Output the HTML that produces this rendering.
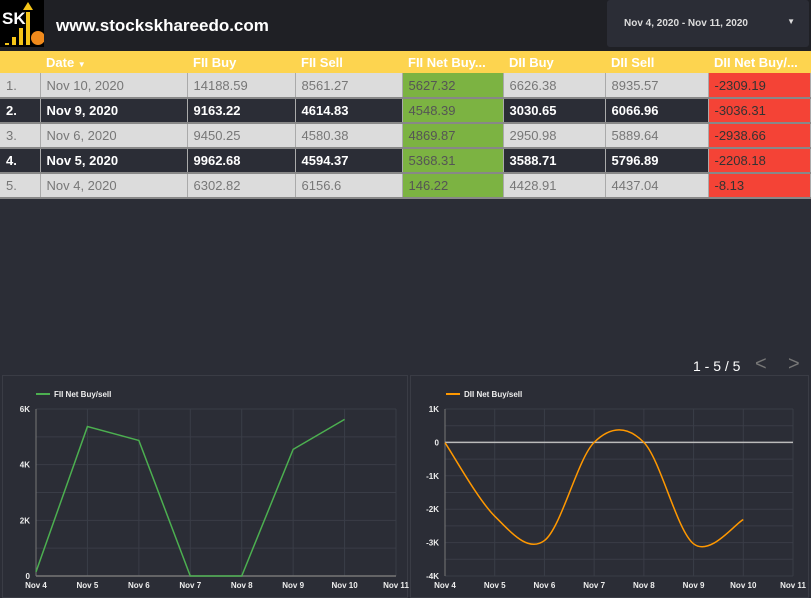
<!DOCTYPE html>
<html><head><meta charset="utf-8"><style>
*{margin:0;padding:0;box-sizing:border-box}
body{width:811px;height:598px;background:#2b2d36;font-family:"Liberation Sans",sans-serif;position:relative;overflow:hidden}
.hdr{position:absolute;left:0;top:0;width:811px;height:51px;background:#1f2025}
.logo{position:absolute;left:0;top:0;width:44px;height:47px;background:#000}
.site{position:absolute;left:56px;top:16px;color:#fff;font-weight:bold;font-size:17px}
.date{position:absolute;left:607px;top:0;width:202px;height:47px;background:#2b2d36;border-radius:3px;color:#ddd;font-size:10px;font-weight:bold;padding:18px 0 0 17px}
.date span{position:absolute;right:14px;top:17px;font-size:8px}
table{position:absolute;left:0;top:51px;width:811px;border-collapse:collapse;font-size:13px;table-layout:fixed}
th{background:#fdd44f;color:#fff;text-align:left;height:22px;font-weight:bold;padding-left:6px;white-space:nowrap;overflow:hidden}
td{height:25px;padding-left:6px;border-right:1px solid #aaa;border-bottom:2px solid #888;white-space:nowrap}
tr.l td{background:#dcdcdc;color:#777}
tr.d td{background:#2b2d36;color:#fff;font-weight:bold}
td.g{background:#7cb342!important;color:#555!important;font-weight:normal!important}
td.r{background:#f44336!important;color:#333!important;font-weight:normal!important}
.pg{position:absolute;left:693px;top:358px;color:#fff;font-size:14px}
.arr{position:absolute;top:353px;color:#777;font-size:20px}
.panel{position:absolute;top:375px;height:223px;background:#2b2d36;border:1px solid #3a3c45}
text{font-family:"Liberation Sans",sans-serif}
</style></head><body>
<div class="hdr">
<div class="logo">
<svg width="44" height="47"><text x="2" y="24" fill="#fff" font-size="17" font-weight="bold">SK</text>
<rect x="5" y="43" width="4" height="2" fill="#f5c518"/><rect x="12" y="37" width="4" height="8" fill="#f5c518"/><rect x="19" y="28" width="4" height="17" fill="#f5c518"/><rect x="26" y="12" width="4" height="33" fill="#f5c518"/><polygon points="28,2 23,10 33,10" fill="#f5c518"/><circle cx="38" cy="38" r="7" fill="#f08a1c"/></svg></div>
<div class="site">www.stockskhareedo.com</div>
<div class="date">Nov 4, 2020 - Nov 11, 2020<span>▼</span></div>
</div>
<table>
<tr><th style="width:40px"></th><th style="width:147px">Date <span style="font-size:8px">▼</span></th><th style="width:108px">FII Buy</th><th style="width:107px">FII Sell</th><th style="width:101px">FII Net Buy...</th><th style="width:102px">DII Buy</th><th style="width:103px">DII Sell</th><th>DII Net Buy/...</th></tr>
<tr class="l"><td>1.</td><td>Nov 10, 2020</td><td>14188.59</td><td>8561.27</td><td class="g">5627.32</td><td>6626.38</td><td>8935.57</td><td class="r">-2309.19</td></tr>
<tr class="d"><td>2.</td><td>Nov 9, 2020</td><td>9163.22</td><td>4614.83</td><td class="g">4548.39</td><td>3030.65</td><td>6066.96</td><td class="r">-3036.31</td></tr>
<tr class="l"><td>3.</td><td>Nov 6, 2020</td><td>9450.25</td><td>4580.38</td><td class="g">4869.87</td><td>2950.98</td><td>5889.64</td><td class="r">-2938.66</td></tr>
<tr class="d"><td>4.</td><td>Nov 5, 2020</td><td>9962.68</td><td>4594.37</td><td class="g">5368.31</td><td>3588.71</td><td>5796.89</td><td class="r">-2208.18</td></tr>
<tr class="l"><td>5.</td><td>Nov 4, 2020</td><td>6302.82</td><td>6156.6</td><td class="g">146.22</td><td>4428.91</td><td>4437.04</td><td class="r">-8.13</td></tr>
</table>
<div class="pg">1 - 5 / 5</div>
<div class="arr" style="left:755px">&lt;</div>
<div class="arr" style="left:788px">&gt;</div>
<div class="panel" style="left:2px;width:406px"></div>
<div class="panel" style="left:410px;width:399px"></div>
<svg id="c" width="811" height="598" style="position:absolute;left:0;top:0"></svg>
<script>
const days=["Nov 4","Nov 5","Nov 6","Nov 7","Nov 8","Nov 9","Nov 10","Nov 11"];
const fiiVals=[146.22,5368.31,4869.87,0,0,4548.39,5627.32];
const diiVals=[-8.13,-2208.18,-2938.66,0,0,-3036.31,-2309.19];
const fiiTicks=[0,2000,4000,6000];const fiiTickLabels=["0","2K","4K","6K"];
const diiTicks=[1000,0,-1000,-2000,-3000,-4000];const diiTickLabels=["1K","0","-1K","-2K","-3K","-4K"];
const svg=document.getElementById('c');const NS="http://www.w3.org/2000/svg";
function el(t,a){const e=document.createElementNS(NS,t);for(const k in a)e.setAttribute(k,a[k]);svg.appendChild(e);return e;}
function chart(o){
 const x=i=>o.x0+i*(o.x1-o.x0)/(days.length-1);
 const y=v=>o.yb+(v-o.min)/(o.max-o.min)*(o.yt-o.yb);
 for(let k=0;k<=(o.max-o.min)/o.step;k++){const v=o.min+k*o.step;el('line',{x1:o.x0,x2:o.x1,y1:y(v),y2:y(v),stroke:'#3a3d47','stroke-width':1});}
 days.forEach((d,i)=>{el('line',{x1:x(i),x2:x(i),y1:o.yt,y2:o.yb,stroke:'#3a3d47'});
  const t=el('text',{x:x(i),y:o.yb+12,fill:'#eee','font-size':8,'font-weight':'bold','text-anchor':'middle'});t.textContent=d;
  });
 o.ticks.forEach((v,i)=>{const t=el('text',{x:o.x0-6,y:y(v)+3,fill:'#eee','font-size':8,'font-weight':'bold','text-anchor':'end'});t.textContent=o.labels[i];
  });
 el('line',{x1:o.x0,x2:o.x0,y1:o.yt,y2:o.yb,stroke:'#777'});
 el('line',{x1:o.x0,x2:o.x1,y1:y(0),y2:y(0),stroke:o.zc,'stroke-width':1.5});
 const pts=o.vals.map((v,i)=>[x(i),y(v)]);let d='M'+pts[0];
 if(o.smooth){for(let i=0;i<pts.length-1;i++){const p0=pts[i-1]||pts[i],p1=pts[i],p2=pts[i+1],p3=pts[i+2]||p2;
   d+=` C${p1[0]+(p2[0]-p0[0])/6},${p1[1]+(p2[1]-p0[1])/6} ${p2[0]-(p3[0]-p1[0])/6},${p2[1]-(p3[1]-p1[1])/6} ${p2[0]},${p2[1]}`;}}
 else pts.slice(1).forEach(p=>d+=' L'+p);
 const p=el('path',{d:d,fill:'none',stroke:o.col,'stroke-width':1.5});
 
 el('line',{x1:o.lx,x2:o.lx+14,y1:394,y2:394,stroke:o.col,'stroke-width':2});
 const lt=el('text',{x:o.lx+18,y:397,fill:'#eee','font-size':8,'font-weight':'bold'});lt.textContent=o.legend;
 
}
chart({x0:36,x1:396,yt:409,yb:576,min:0,max:6000,step:1000,ticks:fiiTicks,labels:fiiTickLabels,vals:fiiVals,col:'#4caf50',zc:'#777',smooth:false,name:'fii-line',legend:'FII Net Buy/sell',lx:36});
chart({x0:445,x1:793,yt:409,yb:576,min:-4000,max:1000,step:500,ticks:diiTicks,labels:diiTickLabels,vals:diiVals,col:'#ff9800',zc:'#bbb',smooth:true,name:'dii-line',legend:'DII Net Buy/sell',lx:446});
</script>
</body></html>
